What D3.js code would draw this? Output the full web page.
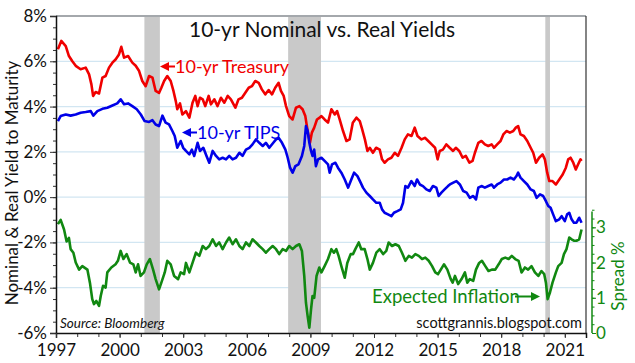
<!DOCTYPE html>
<html>
<head>
<meta charset="utf-8">
<script src="https://cdn.jsdelivr.net/npm/d3@7"></script>
<style>
body { margin: 0; background: #fff; }
svg text { font-family: Lato, "Noto Sans", sans-serif; }
</style>
</head>
<body>
<svg id="chart" width="635" height="363"></svg>
<script>
// 10-yr Treasury yield, % (dates as decimal years)
const treasuryDates = [1997.09, 1997.25, 1997.46, 1997.61, 1997.77, 1997.93, 1998.16, 1998.4, 1998.56, 1998.67, 1998.75, 1998.87, 1999.03, 1999.19, 1999.34, 1999.5, 1999.66, 1999.81, 1999.97, 2000.08, 2000.21, 2000.4, 2000.6, 2000.76, 2000.92, 2001.07, 2001.23, 2001.39, 2001.55, 2001.7, 2001.86, 2001.97, 2002.1, 2002.25, 2002.41, 2002.54, 2002.65, 2002.72, 2002.85, 2002.96, 2003.13, 2003.29, 2003.44, 2003.57, 2003.68, 2003.79, 2003.92, 2004.04, 2004.2, 2004.31, 2004.47, 2004.62, 2004.78, 2004.94, 2005.1, 2005.25, 2005.46, 2005.61, 2005.77, 2005.93, 2006.09, 2006.24, 2006.4, 2006.56, 2006.71, 2006.87, 2007.03, 2007.19, 2007.34, 2007.5, 2007.61, 2007.74, 2007.85, 2008.0, 2008.16, 2008.32, 2008.48, 2008.63, 2008.76, 2008.87, 2008.98, 2009.07, 2009.18, 2009.31, 2009.42, 2009.52, 2009.67, 2009.83, 2009.99, 2010.15, 2010.26, 2010.38, 2010.54, 2010.7, 2010.85, 2011.0, 2011.17, 2011.33, 2011.44, 2011.57, 2011.69, 2011.8, 2011.95, 2012.1, 2012.27, 2012.38, 2012.5, 2012.66, 2012.82, 2012.98, 2013.13, 2013.3, 2013.45, 2013.6, 2013.77, 2013.92, 2014.05, 2014.24, 2014.4, 2014.56, 2014.72, 2014.88, 2015.0, 2015.1, 2015.25, 2015.41, 2015.57, 2015.73, 2015.86, 2016.02, 2016.18, 2016.33, 2016.5, 2016.65, 2016.76, 2016.92, 2017.07, 2017.23, 2017.39, 2017.55, 2017.66, 2017.81, 2017.97, 2018.1, 2018.25, 2018.41, 2018.57, 2018.69, 2018.8, 2018.91, 2019.07, 2019.23, 2019.39, 2019.51, 2019.64, 2019.79, 2019.95, 2020.06, 2020.17, 2020.27, 2020.42, 2020.58, 2020.74, 2020.9, 2021.05, 2021.16, 2021.27, 2021.4, 2021.52, 2021.63, 2021.74, 2021.79];
const treasury = [6.53, 6.9, 6.67, 6.23, 6.0, 5.8, 5.65, 5.72, 5.42, 4.98, 4.47, 4.64, 4.58, 5.28, 5.35, 5.72, 5.94, 6.08, 6.3, 6.64, 6.16, 6.23, 5.94, 5.8, 5.57, 5.13, 4.9, 5.35, 5.28, 4.69, 4.6, 4.83, 5.13, 5.35, 5.13, 4.69, 4.24, 3.88, 4.14, 3.65, 3.8, 3.51, 4.17, 4.47, 4.02, 4.39, 4.32, 4.02, 4.47, 4.1, 4.32, 4.02, 4.39, 4.17, 4.47, 4.32, 3.95, 4.32, 4.39, 4.61, 4.83, 4.9, 5.13, 5.05, 4.76, 4.54, 4.73, 4.54, 4.83, 5.05, 4.69, 4.47, 4.02, 3.58, 3.43, 3.95, 4.02, 3.88, 3.58, 2.92, 2.4, 2.85, 3.07, 3.43, 3.5, 3.58, 3.43, 3.29, 3.88, 3.65, 3.8, 3.43, 2.92, 2.48, 2.55, 3.29, 3.51, 3.36, 3.0, 2.55, 2.04, 2.18, 1.96, 2.18, 2.1, 1.67, 1.52, 1.67, 1.74, 1.96, 1.82, 2.18, 2.55, 2.77, 2.7, 3.07, 2.7, 2.55, 2.62, 2.48, 2.33, 2.18, 1.67, 2.04, 2.1, 2.33, 2.18, 2.04, 2.18, 2.04, 1.74, 1.82, 1.52, 1.6, 1.96, 2.4, 2.48, 2.33, 2.26, 2.33, 2.18, 2.33, 2.48, 2.77, 2.92, 2.85, 2.92, 3.07, 3.14, 2.77, 2.7, 2.48, 2.18, 1.96, 1.52, 1.74, 1.89, 1.67, 1.08, 0.71, 0.71, 0.56, 0.78, 1.0, 1.3, 1.67, 1.74, 1.52, 1.22, 1.45, 1.67, 1.6];

// 10-yr TIPS real yield, %
const tipsDates = [1997.09, 1997.22, 1997.46, 1997.69, 1997.93, 1998.16, 1998.4, 1998.64, 1998.76, 1998.95, 1999.19, 1999.42, 1999.66, 1999.89, 2000.05, 2000.21, 2000.4, 2000.6, 2000.81, 2001.0, 2001.18, 2001.39, 2001.55, 2001.7, 2001.86, 2002.02, 2002.17, 2002.33, 2002.49, 2002.6, 2002.72, 2002.88, 2003.0, 2003.13, 2003.29, 2003.41, 2003.52, 2003.68, 2003.79, 2003.95, 2004.1, 2004.23, 2004.39, 2004.55, 2004.7, 2004.86, 2005.02, 2005.17, 2005.33, 2005.49, 2005.65, 2005.8, 2005.96, 2006.12, 2006.27, 2006.43, 2006.59, 2006.75, 2006.9, 2007.06, 2007.25, 2007.38, 2007.5, 2007.66, 2007.82, 2007.93, 2008.04, 2008.16, 2008.29, 2008.44, 2008.6, 2008.71, 2008.79, 2008.87, 2008.95, 2009.03, 2009.1, 2009.18, 2009.26, 2009.36, 2009.52, 2009.67, 2009.83, 2009.91, 2010.02, 2010.18, 2010.3, 2010.46, 2010.62, 2010.78, 2010.93, 2011.06, 2011.22, 2011.37, 2011.48, 2011.64, 2011.8, 2011.95, 2012.11, 2012.27, 2012.38, 2012.5, 2012.66, 2012.82, 2012.94, 2013.1, 2013.26, 2013.37, 2013.48, 2013.6, 2013.76, 2013.92, 2014.03, 2014.16, 2014.31, 2014.47, 2014.63, 2014.78, 2014.94, 2015.05, 2015.18, 2015.33, 2015.49, 2015.58, 2015.74, 2015.89, 2016.05, 2016.21, 2016.37, 2016.52, 2016.68, 2016.81, 2016.92, 2017.07, 2017.23, 2017.39, 2017.55, 2017.66, 2017.81, 2017.97, 2018.13, 2018.28, 2018.44, 2018.6, 2018.72, 2018.8, 2018.91, 2019.07, 2019.23, 2019.39, 2019.54, 2019.67, 2019.83, 2019.98, 2020.11, 2020.22, 2020.33, 2020.45, 2020.58, 2020.74, 2020.85, 2021.0, 2021.11, 2021.21, 2021.32, 2021.43, 2021.55, 2021.68, 2021.79];
const tips = [3.36, 3.58, 3.65, 3.6, 3.65, 3.73, 3.76, 3.8, 3.6, 3.8, 3.9, 3.95, 4.05, 4.14, 4.32, 4.1, 4.14, 4.02, 3.88, 3.65, 3.36, 3.32, 3.4, 3.21, 3.14, 3.6, 3.29, 3.21, 2.92, 2.7, 2.18, 2.48, 2.18, 2.04, 1.89, 2.1, 1.82, 2.4, 2.04, 2.18, 1.82, 1.52, 2.04, 1.82, 1.67, 1.74, 1.67, 1.82, 1.67, 1.74, 1.96, 1.82, 2.1, 2.18, 2.33, 2.55, 2.4, 2.26, 2.4, 2.18, 2.4, 2.55, 2.62, 2.4, 2.1, 1.74, 1.3, 1.08, 1.37, 1.45, 1.82, 2.26, 3.14, 2.92, 2.4, 2.04, 1.82, 2.1, 1.37, 1.67, 1.74, 1.6, 1.45, 1.08, 1.45, 1.52, 1.3, 1.08, 0.78, 0.42, 0.78, 1.08, 0.93, 0.64, 0.42, 0.2, 0.05, -0.1, -0.25, -0.25, -0.54, -0.69, -0.76, -0.84, -0.69, -0.62, -0.54, -0.25, 0.49, 0.42, 0.71, 0.49, 0.78, 0.56, 0.49, 0.34, 0.27, 0.49, 0.42, 0.05, 0.2, 0.34, 0.49, 0.56, 0.64, 0.71, 0.56, 0.27, 0.2, -0.03, 0.05, -0.1, 0.42, 0.49, 0.42, 0.49, 0.56, 0.42, 0.56, 0.64, 0.78, 0.78, 0.86, 0.78, 0.93, 1.08, 0.86, 0.71, 0.56, 0.34, 0.27, -0.03, 0.12, 0.05, -0.18, -0.39, -0.47, -0.76, -1.06, -0.98, -0.84, -1.06, -0.76, -0.69, -0.98, -1.13, -1.13, -0.91, -1.13];

// Spread (expected inflation), % on right axis
const spreadDates = [1997.09, 1997.22, 1997.38, 1997.5, 1997.61, 1997.69, 1997.82, 1997.93, 1998.09, 1998.24, 1998.48, 1998.6, 1998.71, 1998.79, 1998.9, 1999.03, 1999.11, 1999.22, 1999.34, 1999.42, 1999.61, 1999.81, 1999.92, 2000.05, 2000.18, 2000.33, 2000.49, 2000.65, 2000.76, 2000.87, 2000.99, 2001.15, 2001.28, 2001.43, 2001.58, 2001.7, 2001.86, 2001.97, 2002.13, 2002.25, 2002.41, 2002.57, 2002.76, 2002.88, 2003.04, 2003.13, 2003.29, 2003.44, 2003.6, 2003.76, 2003.92, 2004.07, 2004.23, 2004.39, 2004.55, 2004.7, 2004.86, 2005.02, 2005.17, 2005.33, 2005.49, 2005.65, 2005.8, 2005.96, 2006.12, 2006.27, 2006.43, 2006.59, 2006.75, 2006.9, 2007.06, 2007.22, 2007.38, 2007.53, 2007.69, 2007.85, 2008.0, 2008.16, 2008.32, 2008.48, 2008.6, 2008.71, 2008.79, 2008.87, 2008.95, 2009.03, 2009.1, 2009.18, 2009.29, 2009.42, 2009.52, 2009.67, 2009.83, 2009.99, 2010.11, 2010.22, 2010.33, 2010.46, 2010.62, 2010.74, 2010.9, 2011.01, 2011.12, 2011.28, 2011.4, 2011.56, 2011.69, 2011.8, 2011.95, 2012.11, 2012.27, 2012.43, 2012.58, 2012.69, 2012.85, 2013.01, 2013.17, 2013.32, 2013.48, 2013.64, 2013.79, 2013.95, 2014.11, 2014.27, 2014.42, 2014.58, 2014.74, 2014.89, 2015.02, 2015.15, 2015.3, 2015.46, 2015.62, 2015.71, 2015.82, 2015.97, 2016.13, 2016.29, 2016.4, 2016.52, 2016.68, 2016.81, 2016.96, 2017.09, 2017.25, 2017.4, 2017.56, 2017.72, 2017.88, 2018.03, 2018.19, 2018.35, 2018.5, 2018.66, 2018.82, 2018.96, 2019.12, 2019.27, 2019.43, 2019.59, 2019.75, 2019.9, 2020.03, 2020.11, 2020.19, 2020.3, 2020.42, 2020.58, 2020.69, 2020.85, 2020.96, 2021.08, 2021.21, 2021.32, 2021.43, 2021.55, 2021.68, 2021.79];
const spread = [3.09, 3.21, 2.94, 2.6, 2.7, 2.38, 2.28, 2.0, 1.8, 1.9, 1.8, 1.43, 0.96, 0.82, 0.91, 0.77, 1.05, 1.34, 1.29, 1.72, 1.86, 1.95, 2.05, 2.33, 2.1, 2.24, 2.0, 1.95, 1.72, 1.95, 1.62, 1.72, 1.95, 2.1, 1.8, 1.53, 1.24, 1.43, 1.72, 2.05, 1.95, 1.62, 1.53, 1.72, 1.67, 1.99, 1.72, 1.99, 2.28, 2.19, 2.47, 2.38, 2.47, 2.66, 2.47, 2.57, 2.38, 2.57, 2.71, 2.52, 2.66, 2.47, 2.38, 2.57, 2.47, 2.66, 2.57, 2.47, 2.38, 2.28, 2.38, 2.47, 2.38, 2.24, 2.38, 2.33, 2.47, 2.38, 2.47, 2.52, 2.33, 1.62, 0.86, 0.48, 0.15, 0.67, 1.05, 1.0, 1.62, 1.86, 1.72, 1.9, 2.1, 2.38, 2.28, 2.38, 2.19, 1.9, 1.57, 1.99, 2.24, 2.24, 2.38, 2.57, 2.38, 2.38, 2.1, 1.8, 1.99, 2.28, 2.38, 2.24, 2.33, 2.57, 2.47, 2.52, 2.47, 2.28, 2.05, 2.19, 2.14, 2.24, 2.19, 2.1, 2.14, 2.05, 1.9, 1.72, 1.67, 1.8, 1.95, 1.8, 1.53, 1.43, 1.62, 1.39, 1.53, 1.72, 1.43, 1.53, 1.48, 1.8, 1.99, 2.05, 1.9, 1.76, 1.8, 1.8, 1.95, 2.1, 2.14, 2.1, 2.19, 2.1, 2.05, 1.72, 1.86, 1.8, 1.9, 1.72, 1.62, 1.76, 1.67, 1.43, 0.96, 1.15, 1.43, 1.72, 1.9, 1.99, 2.24, 2.38, 2.71, 2.66, 2.62, 2.62, 2.66, 2.94];

// recessions (start, end)
const recessions = [[2001.17, 2001.9], [2007.95, 2009.5], [2020.08, 2020.3]];

const xTicks = [1997, 2000, 2003, 2006, 2009, 2012, 2015, 2018, 2021];
const yTicks = [-6, -4, -2, 0, 2, 4, 6, 8];
const spreadTicks = [0, 1, 2, 3];

const RED = "#f00000", BLUE = "#0000e8", GREEN = "#118811";

const svg = d3.select("#chart");

const x = d3.scaleLinear().domain([1997, 2022]).range([56, 586]);
const y = d3.scaleLinear().domain([-6, 8]).range([333, 16]);
const y2 = d3.scaleLinear().domain([0, 9]).range([333, 16]);

// grid
svg.append("g")
    .selectAll("line")
    .data(yTicks.filter(d => d > -6 && d < 8))
    .join("line")
    .attr("x1", x.range()[0]).attr("x2", x.range()[1])
    .attr("y1", d => y(d)).attr("y2", d => y(d))
    .attr("stroke", "#d2e6f2").attr("stroke-width", 1.2);

// recession bars
svg.append("g")
    .selectAll("rect")
    .data(recessions)
    .join("rect")
    .attr("x", d => x(d[0]))
    .attr("width", d => x(d[1]) - x(d[0]))
    .attr("y", y(8))
    .attr("height", y(-6) - y(8))
    .attr("fill", "#c9c9c9");

// frame: top gray, right dark
svg.append("line")
    .attr("x1", x(1997)).attr("x2", x(2022))
    .attr("y1", y(8)).attr("y2", y(8))
    .attr("stroke", "#a4a8ac").attr("stroke-width", 2);
svg.append("line")
    .attr("x1", x(2022)).attr("x2", x(2022))
    .attr("y1", y(8)).attr("y2", y(-6))
    .attr("stroke", "#333").attr("stroke-width", 1.2);

// series
function drawLine(dates, values, yScale, color) {
    const line = d3.line()
        .x((d, i) => x(dates[i]))
        .y(d => yScale(d));
    svg.append("path")
        .datum(values)
        .attr("d", line)
        .attr("fill", "none")
        .attr("stroke", color)
        .attr("stroke-width", 2.6)
        .attr("stroke-linejoin", "round");
}
drawLine(spreadDates, spread, y2, GREEN);
drawLine(treasuryDates, treasury, y, RED);
drawLine(tipsDates, tips, y, BLUE);

// axes
const leftMinor = svg.append("g")
    .attr("transform", "translate(" + x(1997) + ",0)")
    .call(d3.axisLeft(y).tickValues(d3.range(-6, 8.01, 0.5)).tickSize(3).tickFormat(""));
leftMinor.select(".domain").remove();
const leftAxis = svg.append("g")
    .attr("transform", "translate(" + x(1997) + ",0)")
    .call(d3.axisLeft(y).tickValues(yTicks).tickSize(6).tickPadding(3).tickFormat(d => d + "%"));

const bottomMinor = svg.append("g")
    .attr("transform", "translate(0," + y(-6) + ")")
    .call(d3.axisBottom(x).tickValues(d3.range(1997, 2023, 1)).tickSize(4).tickFormat(""));
bottomMinor.select(".domain").remove();
const bottomAxis = svg.append("g")
    .attr("transform", "translate(0," + y(-6) + ")")
    .call(d3.axisBottom(x).tickValues(xTicks).tickSize(5).tickPadding(6).tickFormat(d3.format("d")));

[leftMinor, leftAxis, bottomMinor, bottomAxis].forEach(g => {
    g.selectAll("line").attr("stroke", "#333");
    g.select(".domain").attr("stroke", "#111").attr("stroke-width", 1.5);
    g.selectAll("text").attr("font-size", 17).attr("fill", "#111")
        .attr("font-family", "Lato, 'Noto Sans', sans-serif");
});

const rightMinor = svg.append("g")
    .attr("transform", "translate(592,0)")
    .call(d3.axisRight(y2).tickValues(d3.range(0, 3.51, 0.25)).tickSize(2.5).tickFormat(""));
rightMinor.select(".domain").remove();
const rightAxis = svg.append("g")
    .attr("transform", "translate(592,0)")
    .call(d3.axisRight(y2).tickValues(spreadTicks).tickSize(4).tickPadding(0).tickFormat(d3.format("d")));
rightAxis.select(".domain").attr("d", "M0," + y2(3.45) + "V" + y2(0));
[rightMinor, rightAxis].forEach(g => {
    g.selectAll("line").attr("stroke", GREEN);
    g.select(".domain").attr("stroke", GREEN).attr("stroke-width", 1.5);
    g.selectAll("text").attr("font-size", 17).attr("fill", GREEN)
        .attr("font-family", "Lato, 'Noto Sans', sans-serif");
});

// axis titles
svg.append("text")
    .attr("transform", "translate(18,183) rotate(-90)")
    .attr("text-anchor", "middle")
    .attr("font-size", 17)
    .attr("fill", "#111")
    .text("Nominal & Real Yield to Maturity");
svg.append("text")
    .attr("transform", "translate(624,276) rotate(-90)")
    .attr("text-anchor", "middle")
    .attr("font-size", 17)
    .attr("fill", GREEN)
    .text("Spread %");

// title
svg.append("text")
    .attr("x", 322).attr("y", 37)
    .attr("text-anchor", "middle")
    .attr("font-size", 21)
    .attr("fill", "#111")
    .text("10-yr Nominal vs. Real Yields");

// arrows and series labels
function arrow(x1, x2, yy, color) {
    const dir = x2 > x1 ? 1 : -1;
    svg.append("line")
        .attr("x1", x1).attr("x2", x2 - dir * 6)
        .attr("y1", yy).attr("y2", yy)
        .attr("stroke", color).attr("stroke-width", 2);
    svg.append("path")
        .attr("d", "M" + x2 + "," + yy + "L" + (x2 - dir * 9) + "," + (yy - 4.5) + "L" + (x2 - dir * 9) + "," + (yy + 4.5) + "Z")
        .attr("fill", color);
}
arrow(175, 160, 66.5, RED);
svg.append("text").attr("x", 175).attr("y", 73)
    .attr("font-size", 18).attr("fill", RED).text("10-yr Treasury");
arrow(197, 182, 132.5, BLUE);
svg.append("text").attr("x", 197).attr("y", 139)
    .attr("font-size", 18).attr("fill", BLUE).text("10-yr TIPS");
svg.append("text").attr("x", 372).attr("y", 303)
    .attr("font-size", 18.5).attr("fill", GREEN).text("Expected Inflation");
arrow(515, 540, 296.5, GREEN);

// credits
svg.append("text").attr("x", 60).attr("y", 328)
    .attr("font-size", 13.5).attr("font-style", "italic").attr("fill", "#111")
    .text("Source: Bloomberg");
svg.append("text").attr("x", 582).attr("y", 328)
    .attr("text-anchor", "end")
    .attr("font-size", 14.5).attr("fill", "#111")
    .text("scottgrannis.blogspot.com");
</script>
</body>
</html>
